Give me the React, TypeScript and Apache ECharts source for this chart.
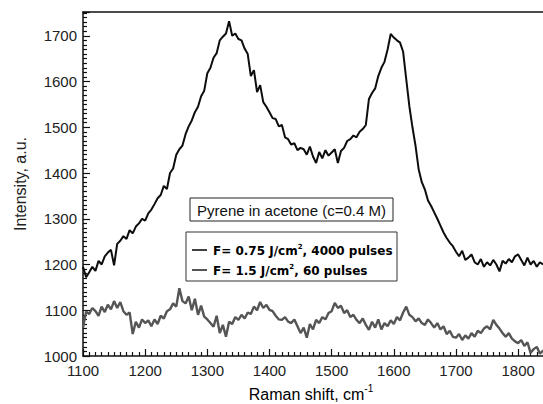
import React, { useEffect, useRef } from "react";
import * as echarts from "echarts";

// Raman shift axis: first point and spacing (cm^-1)
const shiftStart = 1100;
const shiftStep = 5;

// F = 0.75 J/cm2, 4000 pulses
const intensityLowFluence = [
  1195, 1172, 1183, 1195, 1186, 1208, 1200, 1218, 1226, 1232,
  1198, 1245, 1252, 1262, 1256, 1275, 1268, 1283, 1290, 1300,
  1296, 1312, 1320, 1332, 1345, 1352, 1372, 1365, 1400, 1410,
  1440, 1452, 1460, 1485, 1502, 1515, 1533, 1545, 1568, 1580,
  1618, 1630, 1652, 1662, 1690, 1698, 1705, 1732, 1700, 1705,
  1693, 1690, 1672, 1660, 1612, 1625, 1577, 1592, 1555, 1545,
  1533, 1520, 1518, 1502, 1505, 1478, 1474, 1462, 1465, 1450,
  1455, 1452, 1440, 1458, 1436, 1422, 1446, 1432, 1450, 1438,
  1445, 1452, 1422, 1448, 1455, 1470, 1474, 1482, 1478, 1490,
  1496, 1505, 1562, 1575, 1585, 1612, 1630, 1643, 1670, 1704,
  1696, 1690, 1685, 1665, 1605, 1546, 1500, 1459, 1408, 1380,
  1364, 1340, 1328, 1314, 1300, 1285, 1270, 1258, 1248, 1240,
  1228, 1218, 1230, 1210, 1215, 1222, 1205, 1200, 1212, 1195,
  1205, 1198, 1210, 1200, 1185, 1208, 1202, 1212, 1205, 1218,
  1222, 1210, 1198, 1215, 1200, 1208, 1195, 1205, 1200,
];

// F = 1.5 J/cm2, 60 pulses
const intensityHighFluence = [
  1062, 1097, 1092, 1105, 1098, 1088, 1108, 1096, 1112, 1102,
  1120, 1105, 1118, 1098, 1090, 1095, 1048, 1075, 1062, 1080,
  1072, 1078, 1065, 1080, 1070, 1088, 1082, 1098, 1102, 1115,
  1108, 1148, 1120, 1115, 1130, 1100, 1125, 1090, 1110, 1086,
  1080, 1072, 1064, 1088, 1050, 1068, 1042, 1075, 1070, 1085,
  1079, 1090, 1082, 1095, 1092, 1108, 1100, 1118, 1105, 1112,
  1101, 1098, 1088, 1080, 1079, 1085, 1075, 1072, 1080, 1065,
  1050, 1062, 1040, 1070, 1058, 1079, 1072, 1085, 1080, 1094,
  1098, 1116, 1105, 1110, 1094, 1100, 1085, 1090, 1079, 1072,
  1082, 1068, 1057, 1075, 1062, 1080, 1058, 1072, 1065, 1078,
  1070, 1085, 1078, 1095, 1108, 1090, 1085, 1076, 1082, 1072,
  1068, 1080, 1072, 1062, 1072, 1058, 1065, 1048, 1055, 1042,
  1040, 1048, 1035, 1045, 1038, 1050, 1042, 1055, 1050, 1060,
  1065, 1058, 1079, 1068, 1060, 1050, 1042, 1050, 1038, 1032,
  1028, 1035, 1022, 1030, 1007, 1015, 1020, 1005, 1012,
];

const seriesNames = ["F= 0.75 J/cm2, 4000 pulses", "F= 1.5 J/cm2, 60 pulses"];
const annotation = "Pyrene in acetone (c=0.4 M)";

const xMin = 1100;
const xMax = 1840;
const yMin = 1000;
const yMax = 1752;
const minorStep = 10;
const majorStep = 100;

export default function App() {
  const ref = useRef<HTMLDivElement>(null);

  useEffect(() => {
    if (!ref.current) return;
    const chart = echarts.init(ref.current, undefined, { renderer: "svg" });
    const toPairs = (arr: number[]) => arr.map((v, i) => [shiftStart + i * shiftStep, v]);
    const labelFont = "'Liberation Sans', Arial, sans-serif";
    const legendRich = {
      a: { fontFamily: "'DejaVu Sans', sans-serif", fontWeight: "bold", fontSize: 12, color: "#111", lineHeight: 14, verticalAlign: "bottom" },
      s: { fontFamily: "'DejaVu Sans', sans-serif", fontWeight: "bold", fontSize: 7, color: "#111", lineHeight: 14, padding: [0, 0, 7, 0], verticalAlign: "bottom" },
    };

    chart.setOption({
      animation: false,
      backgroundColor: "#ffffff",
      grid: { left: 83, right: 0, top: 12, bottom: 48, containLabel: false },
      xAxis: [
        {
          type: "value",
          min: xMin,
          max: xMax,
          interval: majorStep,
          axisLine: { show: true, lineStyle: { color: "#111", width: 1.5 } },
          axisTick: { show: true, inside: true, length: 7, lineStyle: { color: "#111", width: 1.2 } },
          minorTick: { show: true, splitNumber: 10, length: 4, lineStyle: { color: "#111", width: 1.2 } },
          splitLine: { show: false },
          axisLabel: {
            color: "#222",
            fontSize: 15,
            fontFamily: labelFont,
            margin: 7,
            showMaxLabel: false,
            formatter: (v: number) => (v % 100 === 0 ? String(v) : ""),
          },
        },
        {
          type: "value",
          position: "top",
          min: xMin,
          max: xMax,
          axisLine: { show: true, lineStyle: { color: "#111", width: 1.5 } },
          axisTick: { show: false },
          axisLabel: { show: false },
          splitLine: { show: false },
        },
      ],
      yAxis: {
        type: "value",
        min: yMin,
        max: yMax,
        interval: majorStep,
        axisLine: { show: true, lineStyle: { color: "#111", width: 1.5 } },
        axisTick: { show: true, inside: true, length: 7, lineStyle: { color: "#111", width: 1.2 } },
        minorTick: { show: true, splitNumber: 10, length: 4, lineStyle: { color: "#111", width: 1.2 } },
        splitLine: { show: false },
        axisLabel: {
          color: "#222",
          fontSize: 15,
          fontFamily: labelFont,
          margin: 6,
          showMaxLabel: false,
          formatter: (v: number) => (v % 100 === 0 ? String(v) : ""),
        },
      },
      series: [
        {
          name: seriesNames[1],
          type: "line",
          data: toPairs(intensityHighFluence),
          showSymbol: false,
          lineStyle: { color: "#555", width: 2.4 },
          z: 2,
        },
        {
          name: seriesNames[0],
          type: "line",
          data: toPairs(intensityLowFluence),
          showSymbol: false,
          lineStyle: { color: "#0d0d0d", width: 2 },
          z: 3,
        },
      ],
      graphic: [
        {
          type: "text",
          x: 20,
          y: 184,
          rotation: Math.PI / 2,
          style: {
            text: "Intensity, a.u.",
            fontSize: 16,
            fontFamily: labelFont,
            fill: "#222",
            align: "center",
            verticalAlign: "middle",
          },
        },
        {
          type: "text",
          x: 311,
          y: 393,
          style: {
            text: "{a|Raman shift, cm}{s|-1}",
            align: "center",
            verticalAlign: "middle",
            rich: {
              a: { fontSize: 16, fontFamily: labelFont, color: "#222", lineHeight: 18, verticalAlign: "bottom" },
              s: { fontSize: 10, fontFamily: labelFont, color: "#222", lineHeight: 18, padding: [0, 0, 9, 0], verticalAlign: "bottom" },
            },
          },
        },
        {
          type: "rect",
          shape: { x: 190, y: 198, width: 203, height: 23 },
          style: { fill: "#fff", stroke: "#222", lineWidth: 1 },
          z: 10,
        },
        {
          type: "text",
          x: 291.5,
          y: 210,
          z: 11,
          style: {
            text: annotation,
            fontSize: 15,
            fontFamily: labelFont,
            fill: "#111",
            align: "center",
            verticalAlign: "middle",
          },
        },
        {
          type: "rect",
          shape: { x: 186, y: 232, width: 211, height: 49 },
          style: { fill: "#fff", stroke: "#333", lineWidth: 1 },
          z: 10,
        },
        {
          type: "line",
          shape: { x1: 192, y1: 250, x2: 207, y2: 250 },
          style: { stroke: "#111", lineWidth: 1.6 },
          z: 11,
        },
        {
          type: "line",
          shape: { x1: 192, y1: 270, x2: 207, y2: 270 },
          style: { stroke: "#555", lineWidth: 2 },
          z: 11,
        },
        {
          type: "text",
          x: 213,
          y: 250,
          z: 11,
          style: {
            text: "{a|F= 0.75 J/cm}{s|2}{a|, 4000 pulses}",
            verticalAlign: "middle",
            align: "left",
            rich: legendRich,
          },
        },
        {
          type: "text",
          x: 213,
          y: 270,
          z: 11,
          style: {
            text: "{a|F= 1.5 J/cm}{s|2}{a|, 60 pulses}",
            verticalAlign: "middle",
            align: "left",
            rich: legendRich,
          },
        },
      ],
    });

    return () => chart.dispose();
  }, []);

  return <div ref={ref} style={{ width: 543, height: 404, position: "absolute", left: 0, top: 0 }} />;
}
